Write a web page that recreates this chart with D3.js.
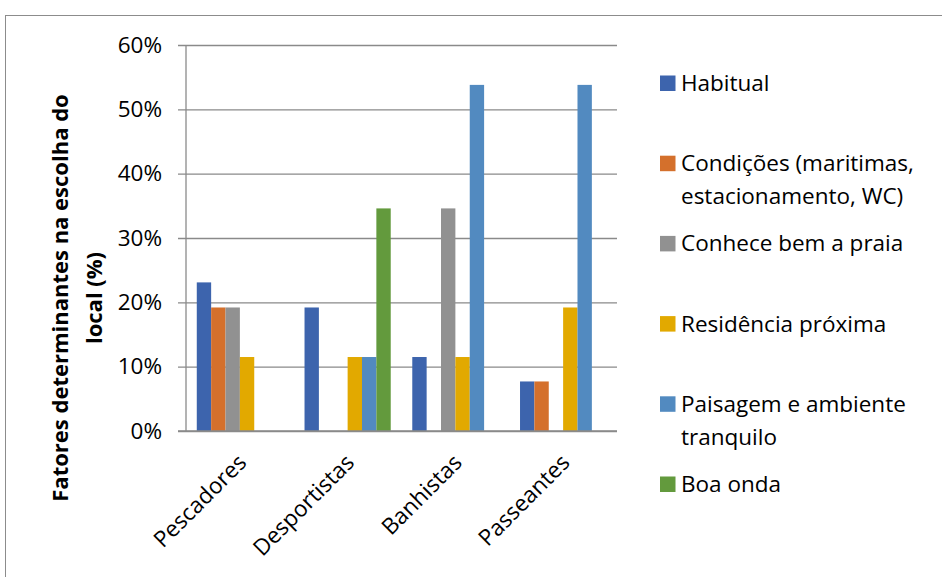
<!DOCTYPE html>
<html>
<head>
<meta charset="utf-8">
<script src="https://cdn.jsdelivr.net/npm/d3@7"></script>
<style>
  html, body { margin: 0; padding: 0; background: #fff; }
  svg { display: block; }
  text { font-family: "Open Sans", "Liberation Sans", sans-serif; fill: #000; }
</style>
</head>
<body>
<svg id="chart" width="942" height="577"></svg>
<script>
// Visitor groups on the x axis
const categories = ["Pescadores", "Desportistas", "Banhistas", "Passeantes"];

// Factor names (legend lines)
const seriesNames = [
  "Habitual",
  "Condições (maritimas, estacionamento, WC)",
  "Conhece bem a praia",
  "Residência próxima",
  "Paisagem e ambiente tranquilo",
  "Boa onda"
];
const legendLines = [
  ["Habitual"],
  ["Condições (maritimas,", "estacionamento, WC)"],
  ["Conhece bem a praia"],
  ["Residência próxima"],
  ["Paisagem e ambiente", "tranquilo"],
  ["Boa onda"]
];
const seriesColors = ["#3d64ad", "#d4702c", "#919191", "#e2a900", "#528ac0", "#639a3d"];

// Percentages per factor, one value per visitor group
const habitual   = [23.1, 19.2, 11.5, 7.7];
const condicoes  = [19.2, 0, 0, 7.7];
const conhece    = [19.2, 0, 34.6, 0];
const residencia = [11.5, 11.5, 11.5, 19.2];
const paisagem   = [0, 11.5, 53.8, 53.8];
const boaOnda    = [0, 34.6, 0, 0];
const seriesValues = [habitual, condicoes, conhece, residencia, paisagem, boaOnda];

// Axis ticks
const yTicks = [0, 10, 20, 30, 40, 50, 60];

const svg = d3.select("#chart");

// Outer chart frame
svg.append("rect")
  .attr("x", 5.5).attr("y", 15.5)
  .attr("width", 960).attr("height", 600)
  .attr("fill", "none").attr("stroke", "#8c8c8c").attr("stroke-width", 1);

const plot = { left: 186, right: 617, top: 45, bottom: 431 };

const x0 = d3.scaleBand().domain(categories).range([plot.left, plot.right]).paddingInner(0).paddingOuter(0);
const x1 = d3.scaleBand().domain(d3.range(seriesNames.length)).range([0, x0.bandwidth()]).paddingInner(0).paddingOuter(0.75);
const y = d3.scaleLinear().domain([0, 60]).range([plot.bottom, plot.top]);

// Gridlines with tick marks
const yAxis = d3.axisLeft(y).tickValues(yTicks).tickFormat(d => d + "%")
  .tickSize(-(plot.right - plot.left)).tickPadding(24);
const gy = svg.append("g").attr("transform", `translate(${plot.left},0)`).call(yAxis);
gy.select(".domain").remove();
gy.selectAll(".tick line")
  .attr("x1", -8)
  .attr("stroke", "#8a8a8a").attr("stroke-width", 1.3);
gy.selectAll(".tick text")
  .attr("font-size", "22.5px").attr("fill", "#000");

// Vertical axis line
svg.append("line")
  .attr("x1", plot.left).attr("x2", plot.left)
  .attr("y1", plot.top).attr("y2", plot.bottom)
  .attr("stroke", "#8a8a8a").attr("stroke-width", 1.3);

// Bars
const groups = svg.append("g").selectAll("g")
  .data(categories)
  .join("g")
  .attr("transform", d => `translate(${x0(d)},0)`);

groups.selectAll("rect")
  .data((c, ci) => seriesValues.map((vals, si) => ({ si, v: vals[ci] })).filter(d => d.v > 0))
  .join("rect")
  .attr("x", d => x1(d.si))
  .attr("width", x1.bandwidth())
  .attr("y", d => y(d.v))
  .attr("height", d => y(0) - y(d.v))
  .attr("fill", d => seriesColors[d.si]);

// Bottom axis line drawn above bars
svg.append("line")
  .attr("x1", plot.left - 8).attr("x2", plot.right)
  .attr("y1", plot.bottom).attr("y2", plot.bottom)
  .attr("stroke", "#8a8a8a").attr("stroke-width", 1.3);

// Category labels, rotated
svg.append("g").selectAll("text")
  .data(categories)
  .join("text")
  .attr("transform", d => `translate(${x0(d) + x0.bandwidth() / 2 + 8},${plot.bottom + 33}) rotate(-45)`)
  .attr("text-anchor", "end")
  .attr("font-size", "22.5px")
  .text(d => d);

// Y axis title
const titleLines = ["Fatores determinantes na escolha do", "local (%)"];
svg.append("g").selectAll("text")
  .data(titleLines)
  .join("text")
  .attr("transform", (d, i) => `translate(${67.5 + i * 34},298) rotate(-90)`)
  .attr("text-anchor", "middle")
  .attr("font-size", "22px")
  .attr("font-weight", "bold")
  .text(d => d);

// Legend
const legend = svg.append("g").selectAll("g")
  .data(seriesNames)
  .join("g")
  .attr("transform", (d, i) => `translate(660,${91 + i * 80.2})`);

legend.append("rect")
  .attr("x", 0).attr("y", -15.5)
  .attr("width", 15.5).attr("height", 15.5)
  .attr("fill", (d, i) => seriesColors[i]);

legend.append("text")
  .attr("x", 21).attr("y", 0)
  .attr("font-size", "22.5px")
  .selectAll("tspan")
  .data((d, i) => legendLines[i])
  .join("tspan")
  .attr("x", 21)
  .attr("dy", (d, j) => j === 0 ? 0 : 33)
  .text(d => d);
</script>
</body>
</html>
